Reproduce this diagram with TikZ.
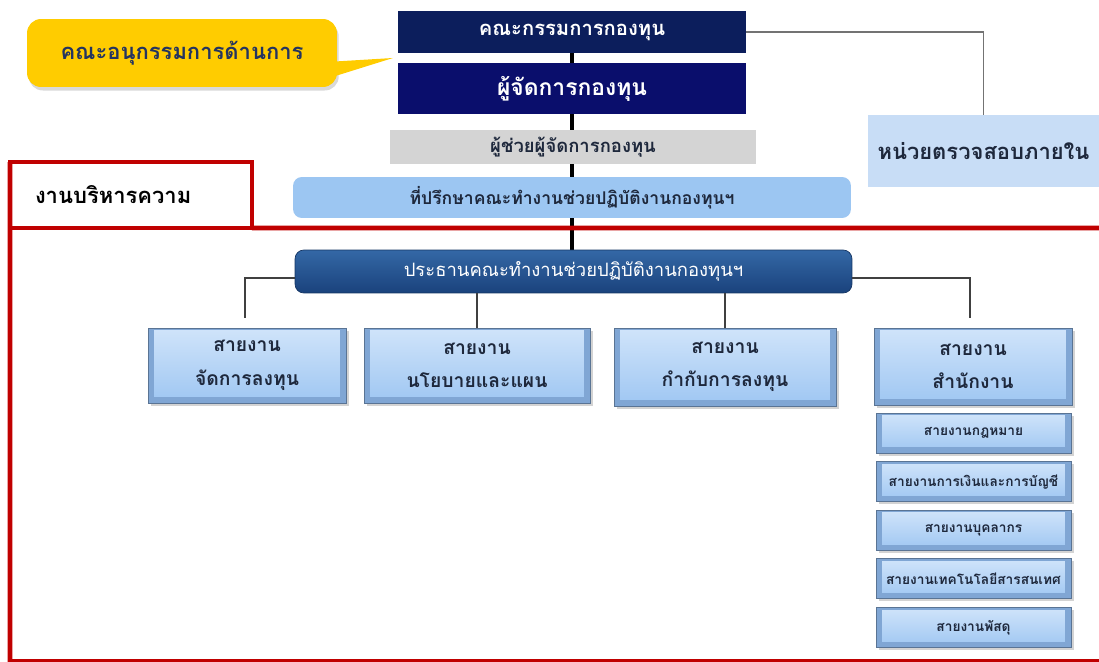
\documentclass[tikz,border=0pt]{standalone}
\usepackage{fontspec}
\newfontfamily\thaifont[Script=Thai]{Loma}
\usetikzlibrary{positioning,shadows,backgrounds,calc}
\definecolor{navyone}{RGB}{12,30,92}
\definecolor{navytwo}{RGB}{10,14,108}
\definecolor{callyellow}{RGB}{255,204,0}
\definecolor{calltext}{RGB}{36,52,96}
\definecolor{asstgrey}{RGB}{212,212,212}
\definecolor{advblue}{RGB}{156,198,242}
\definecolor{auditblue}{RGB}{200,221,246}
\definecolor{framered}{RGB}{192,0,0}
\definecolor{chairtop}{RGB}{52,104,166}
\definecolor{chairbot}{RGB}{26,66,124}
\definecolor{bvedge}{RGB}{128,166,212}
\definecolor{bvlight}{RGB}{208,228,250}
\definecolor{bvmid}{RGB}{158,198,242}
\definecolor{textdark}{RGB}{30,40,60}

\begin{document}
\begin{tikzpicture}[
    x=0.02cm, y=-0.02cm,
    every node/.style={font=\thaifont, inner sep=0pt, align=center},
    callout/.style={rectangle, rounded corners=8pt, fill=callyellow, text=calltext, minimum width=6.2cm, minimum height=1.36cm, font=\thaifont\bfseries\fontsize{12.5}{14}\selectfont, drop shadow={opacity=0.3, shadow xshift=1pt, shadow yshift=-2pt}},
    navybox/.style={rectangle, text=white, minimum width=6.96cm, font=\thaifont\bfseries\fontsize{11.5}{13}\selectfont},
    asstbox/.style={rectangle, fill=asstgrey, text=textdark, minimum width=7.32cm, minimum height=0.68cm, font=\thaifont\bfseries\fontsize{10.5}{12}\selectfont},
    advbox/.style={rectangle, rounded corners=5pt, fill=advblue, text=textdark, minimum width=11.16cm, minimum height=0.82cm, font=\thaifont\bfseries\fontsize{10}{12}\selectfont},
    auditbox/.style={rectangle, fill=auditblue, text=textdark, minimum width=4.62cm, minimum height=1.44cm, font=\thaifont\bfseries\fontsize{12.5}{14}\selectfont},
    redbox/.style={rectangle, draw=framered, line width=2.8pt, outer sep=0pt, text=black, minimum width=4.84cm, minimum height=1.32cm, text width=3.84cm, align=left, font=\thaifont\bfseries\fontsize{12.5}{14}\selectfont},
    redline/.style={draw=framered, line width=2.8pt},
    chairbox/.style={rectangle, rounded corners=5pt, top color=chairtop, bottom color=chairbot, draw=chairbot!80!black, text=white, minimum width=11.14cm, minimum height=0.86cm, font=\thaifont\fontsize{10.5}{12}\selectfont},
    bevel/.style={rectangle, fill=bvedge, draw=bvedge!70!black, line width=0.4pt, text=textdark,
        drop shadow={opacity=0.35, shadow xshift=1.5pt, shadow yshift=-1.5pt},
        path picture={\shade[top color=bvlight, bottom color=bvmid] ([shift={(3.5pt,-1.5pt)}]path picture bounding box.north west) rectangle ([shift={(-3.5pt,3.5pt)}]path picture bounding box.south east);},
        font=\thaifont\bfseries\fontsize{11}{19}\selectfont},
    subbox/.style={bevel, minimum width=3.9cm, minimum height=0.8cm, font=\thaifont\bfseries\fontsize{7.8}{9}\selectfont},
    conn/.style={draw=black!75, line width=1.1pt},
    auditline/.style={draw=black!55, line width=1pt},
    spine/.style={draw=black, line width=2.3pt}
]
    \useasboundingbox (0,0) rectangle (1099,662);

    \node[callout] (call) at (182,53) {คณะอนุกรรมการด้านการ};
    \coordinate (tip) at (393,58);
    \fill[callyellow] ($(call.east)+(-4pt,-5pt)$) -- (tip) -- ($(call.east)+(-4pt,-14pt)$) -- cycle;

    \node[navybox, fill=navyone, minimum height=0.84cm] (board) at (572,32) {คณะกรรมการกองทุน};
    \node[navybox, fill=navytwo, minimum height=1.02cm, font=\thaifont\bfseries\fontsize{13}{15}\selectfont] (fm) at (572,88.5) {ผู้จัดการกองทุน};
    \node[asstbox] (asst) at (573,147) {ผู้ช่วยผู้จัดการกองทุน};
    \node[advbox] (adv) at (572,197.5) {ที่ปรึกษาคณะทำงานช่วยปฏิบัติงานกองทุนฯ};
    \node[auditbox] (audit) at (983.5,151) {หน่วยตรวจสอบภายใน};

    \node[redbox] (lbl) at (131,195) {งานบริหารความ};
    \draw[redline] (lbl.south east) -- (1099,228);
    \draw[redline] (lbl.north west) -- (10,662);
    \draw[draw=framered, line width=1.2pt] (10,660.5) -- (1099,660.5);

    \node[chairbox] (chair) at (573.5,271.5) {ประธานคณะทำงานช่วยปฏิบัติงานกองทุนฯ};

    \node[bevel, minimum width=3.96cm, minimum height=1.5cm] (invest) at (247,365.5) {สายงาน\\จัดการลงทุน};
    \node[bevel, minimum width=4.52cm, minimum height=1.5cm] (policy) at (477,365.5) {สายงาน\\นโยบายและแผน};
    \node[bevel, minimum width=4.44cm, minimum height=1.56cm] (control) at (725,367) {สายงาน\\กำกับการลงทุน};
    \node[bevel, minimum width=3.96cm, minimum height=1.54cm] (office) at (973,366.5) {สายงาน\\สำนักงาน};

    \foreach \name/\txt [count=\i from 0] in {law/สายงานกฎหมาย, finance/สายงานการเงินและการบัญชี, staff/สายงานบุคลากร, tech/สายงานเทคโนโลยีสารสนเทศ, supply/สายงานพัสดุ}
        \node[subbox] (\name) at (973.5,433+48.6*\i) {\txt};

    \coordinate (investtop) at (245,318);
    \coordinate (officetop) at (970,318);
    \draw[conn] ([yshift=-3.5pt]chair.west) -| (investtop);
    \draw[conn] ([yshift=-3.5pt]chair.east) -| (officetop);
    \draw[conn] (chair.south -| policy.north) -- (policy.north);
    \draw[conn] (chair.south -| control.north) -- (control.north);
    \draw[auditline] (board.east) -| (audit.north);

    \begin{scope}[on background layer]
        \draw[spine] (board.south) -- (board.south |- chair.north);
    \end{scope}
\end{tikzpicture}
\end{document}
